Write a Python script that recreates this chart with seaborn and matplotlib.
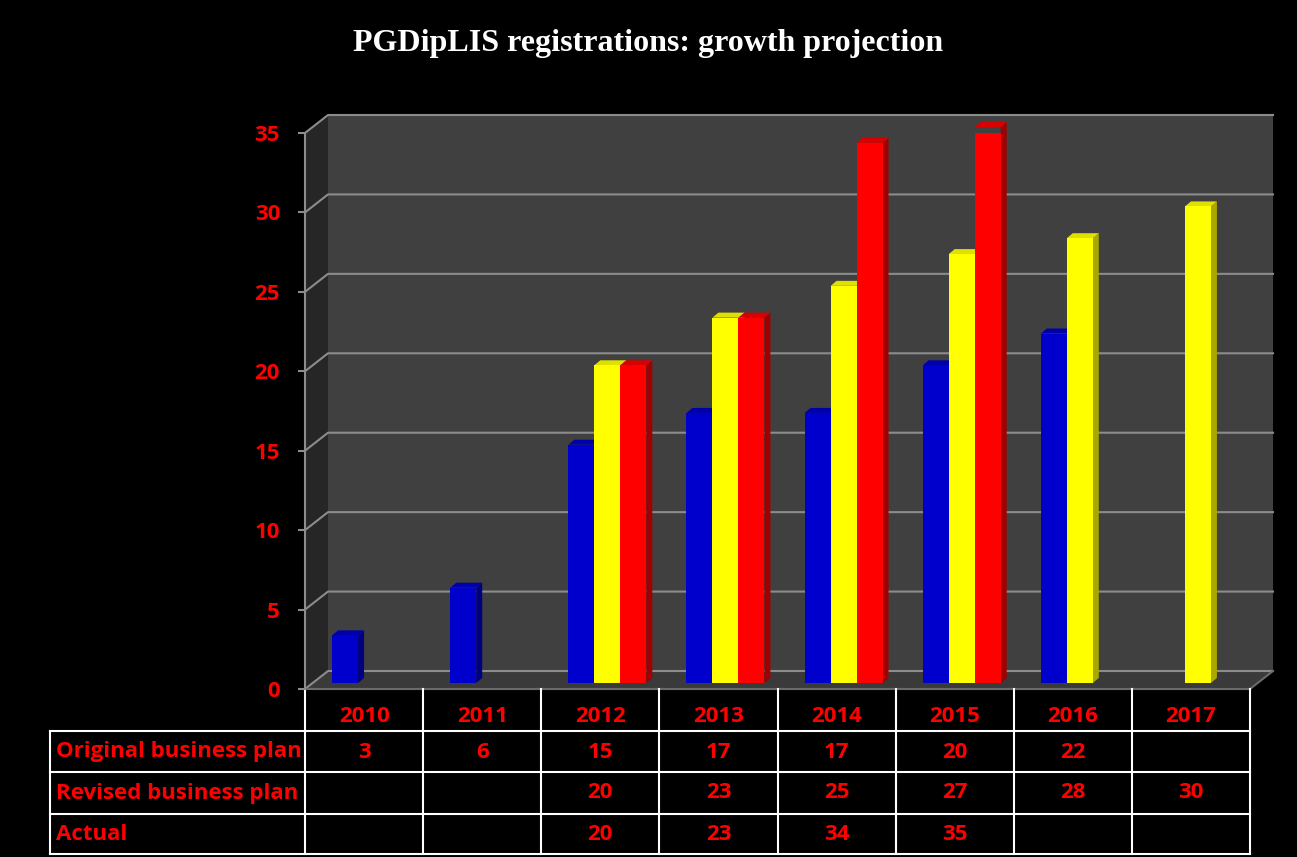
import pandas as pd
import seaborn as sns
import matplotlib.pyplot as plt
from matplotlib.colors import to_hex
from matplotlib.lines import Line2D
from matplotlib.patches import Polygon
from matplotlib.transforms import offset_copy, blended_transform_factory, IdentityTransform

years = ['2010', '2011', '2012', '2013', '2014', '2015', '2016', '2017']
original = [3, 6, 15, 17, 17, 20, 22, None]
revised = [None, None, 20, 23, 25, 27, 28, 30]
actual = [None, None, 20, 23, 34, 35, None, None]
series = ['Original business plan', 'Revised business plan', 'Actual']
colors = ['#0000cc', '#ffff00', '#ff0000']
side_colors = ['#000080', '#a8a800', '#a00000']
top_colors = ['#0000aa', '#e0e000', '#d80000']
yticks = [0, 5, 10, 15, 20, 25, 30, 35]
title = 'PGDipLIS registrations: growth projection'

rows = []
for name, vals in zip(series, [original, revised, actual]):
    for yr, v in zip(years, vals):
        if v is not None:
            rows.append((yr, name, v))
df = pd.DataFrame(rows, columns=['year', 'series', 'value'])

W, H = 1297, 857
plt.rcParams['font.family'] = ['Open Sans', 'DejaVu Sans']
fig = plt.figure(figsize=(W / 100, H / 100), dpi=100, facecolor='black')
ax = fig.add_axes([305 / W, 1 - 689 / H, 945 / W, 556 / H])
ax.set_facecolor('none')

sns.barplot(data=df, x='year', y='value', hue='series', order=years, hue_order=series,
            palette=colors, saturation=1, width=0.66, errorbar=None, legend=False,
            ax=ax, zorder=3)
bars = list(ax.patches)
ax.set_xlim(-0.5, 7.5)
ax.set_ylim(0, 35)
ax.set_yticks(yticks)
ax.set_xticks([])
ax.set_xlabel('')
ax.set_ylabel('')
for s in ['top', 'right', 'bottom']:
    ax.spines[s].set_visible(False)
ax.spines['left'].set_color('#8c8c8c')
ax.spines['left'].set_linewidth(1.5)
ax.tick_params(axis='y', colors='#8c8c8c', labelcolor='red', length=5, width=1.5,
               pad=13, labelsize=16)
for lbl in ax.get_yticklabels():
    lbl.set_fontweight('bold')

BX, BY = 23, 18   # depth of the back wall in pixels
OX, OY = 7, 6     # bars sit a bit behind the front edge
DX, DY = 6, 5     # bar depth


def disp(x, y, dx=0, dy=0):
    p = ax.transData.transform((x, y))
    return (p[0] + dx, p[1] + dy)


ident = IdentityTransform()
walls = [
    ([disp(-0.5, 0, BX, BY), disp(7.5, 0, BX, BY), disp(7.5, 35, BX, BY), disp(-0.5, 35, BX, BY)], '#404040'),
    ([disp(-0.5, 0), disp(-0.5, 0, BX, BY), disp(-0.5, 35, BX, BY), disp(-0.5, 35)], '#262626'),
    ([disp(-0.5, 0), disp(7.5, 0), disp(7.5, 0, BX, BY), disp(-0.5, 0, BX, BY)], '#3a3a3a'),
]
for pts, c in walls:
    ax.add_patch(Polygon(pts, closed=True, facecolor=c, edgecolor='none',
                         transform=ident, clip_on=False, zorder=0.2))
for t in yticks:
    pts = [disp(-0.5, t), disp(-0.5, t, BX, BY), disp(7.5, t, BX, BY)]
    ax.add_line(Line2D([p[0] for p in pts], [p[1] for p in pts], color='#8c8c8c',
                       lw=1.5, transform=ident, clip_on=False, zorder=0.5))
pts = [disp(-0.5, 0), disp(7.5, 0), disp(7.5, 0, BX, BY)]
ax.add_line(Line2D([p[0] for p in pts], [p[1] for p in pts], color='#6a6a6a',
                   lw=1.5, transform=ident, clip_on=False, zorder=0.5))

bar_tr = offset_copy(ax.transData, fig=fig, x=OX, y=OY, units='dots')
for p in bars:
    h = p.get_height()
    if h != h or h == 0:
        continue
    fc = to_hex(p.get_facecolor())
    if fc not in colors:
        continue
    k = colors.index(fc)
    x, w = p.get_x(), p.get_width()
    p.set_transform(bar_tr)
    p.set_edgecolor('none')
    a = disp(x + w, 0, OX, OY)
    b = disp(x + w, h, OX, OY)
    side = [a, b, (b[0] + DX, b[1] + DY), (a[0] + DX, a[1] + DY)]
    l = disp(x, h, OX, OY)
    top = [l, b, (b[0] + DX, b[1] + DY), (l[0] + DX, l[1] + DY)]
    ax.add_patch(Polygon(side, closed=True, facecolor=side_colors[k], edgecolor='none',
                         transform=ident, clip_on=False, zorder=2.8))
    ax.add_patch(Polygon(top, closed=True, facecolor=top_colors[k], edgecolor='none',
                         transform=ident, clip_on=False, zorder=2.8))

fig.text(0.5, 1 - 43 / H, title, ha='center', va='center', color='white',
         fontsize=23, fontweight='bold', family=['Liberation Serif', 'DejaVu Serif'])

# data table under the axes
blend = blended_transform_factory(ax.transData, fig.transFigure)


def fy(py):
    return 1 - py / H


line_kw = dict(color='white', lw=1.5, clip_on=False)
for i in range(len(years) + 1):
    ax.add_line(Line2D([i - 0.5, i - 0.5], [fy(689), fy(854)], transform=blend, **line_kw))
for py in [731, 772, 814, 854]:
    fig.add_artist(Line2D([50 / W, 1250 / W], [fy(py), fy(py)], transform=fig.transFigure, **line_kw))
fig.add_artist(Line2D([50 / W, 50 / W], [fy(731), fy(854)], transform=fig.transFigure, **line_kw))

txt_kw = dict(color='red', fontsize=16, fontweight='bold', va='center')
for i, yr in enumerate(years):
    ax.text(i, fy(716), yr, transform=blend, ha='center', **txt_kw)
for name, vals, py in zip(series, [original, revised, actual], [752, 793, 834]):
    fig.text(56 / W, fy(py), name, ha='left', **txt_kw)
    for i, v in enumerate(vals):
        if v is not None:
            ax.text(i, fy(py), str(v), transform=blend, ha='center', **txt_kw)

fig.savefig('out.png', dpi=100, facecolor='black')
